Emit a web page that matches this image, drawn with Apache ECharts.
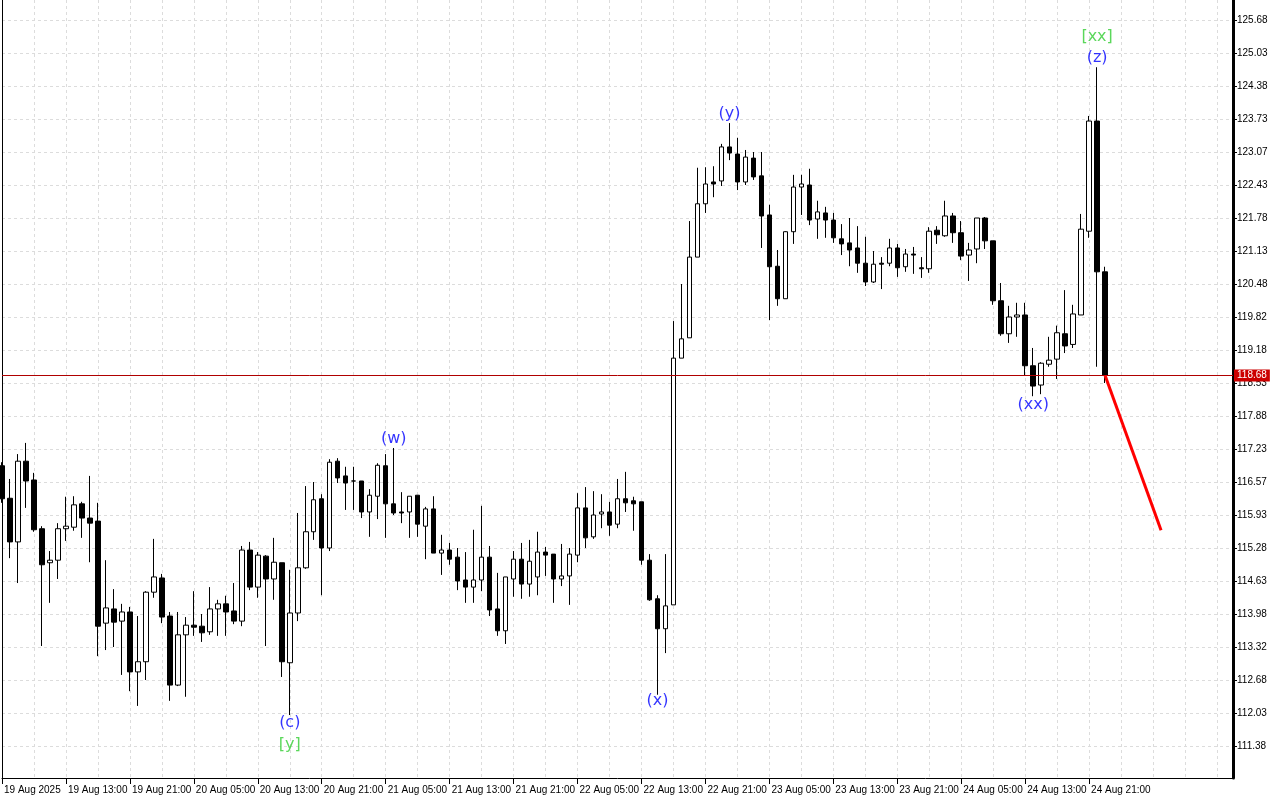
<!DOCTYPE html>
<html><head><meta charset="utf-8">
<script src="https://cdn.jsdelivr.net/npm/echarts@6/dist/echarts.min.js"></script>
<style>html,body{margin:0;padding:0;background:#fff}#c{width:1280px;height:800px}</style>
</head><body><div id="c"></div>
<script>
// ---- data (hourly bars starting 19 Aug 2025 05:00) ----
const opens = [116.90,116.26,115.40,116.99,116.62,115.66,114.99,115.04,115.66,115.69,
116.15,115.87,115.81,113.80,114.08,113.84,114.02,112.84,113.04,114.41,
114.69,113.94,112.58,113.57,113.76,113.74,113.63,114.08,114.18,114.04,
113.84,115.24,114.51,115.12,114.67,114.99,113.02,114.00,114.89,115.60,
116.25,115.28,116.99,116.70,116.60,116.60,115.99,116.30,116.90,116.15,
115.99,115.99,116.32,115.71,116.05,115.18,115.24,115.10,114.65,114.51,
114.65,115.10,114.08,113.65,114.67,115.06,114.57,114.71,115.20,115.16,
114.67,114.73,115.14,116.07,115.50,115.95,115.99,115.75,116.25,116.21,
116.19,115.04,114.28,113.69,114.16,119.02,119.42,121.01,122.06,122.49,
122.51,123.18,123.04,122.49,122.96,122.61,121.84,120.83,120.19,121.51,
122.39,122.43,121.76,121.88,121.74,121.37,121.29,121.19,120.89,120.52,
120.89,120.89,121.19,120.82,121.07,120.80,120.78,121.54,121.43,121.82,
121.49,121.05,121.17,121.78,121.33,120.15,119.50,119.83,119.87,118.87,
118.49,118.90,119.00,119.50,119.29,119.87,121.52,123.69,120.72];
const closes = [116.25,115.40,116.99,116.60,115.64,114.95,115.04,115.66,115.71,116.13,
115.87,115.77,113.74,114.10,113.82,114.02,112.84,113.04,114.41,114.71,
113.92,112.58,113.57,113.76,113.72,113.61,114.08,114.18,114.02,113.84,
115.24,114.51,115.14,114.67,115.00,113.04,114.00,114.89,115.60,116.23,
115.28,116.97,116.66,116.56,116.60,115.99,116.32,116.91,116.15,115.97,
115.97,116.30,115.75,116.05,115.18,115.24,115.06,114.63,114.51,114.65,
115.10,114.06,113.65,114.71,115.06,114.57,115.02,115.20,115.14,114.67,
114.73,115.16,116.07,115.48,115.93,115.99,115.73,116.25,116.17,116.15,
115.04,114.26,113.69,114.14,119.02,119.40,121.01,122.06,122.45,122.45,
123.18,123.06,122.49,122.98,122.59,121.82,120.82,120.19,121.51,122.39,
122.45,121.74,121.90,121.74,121.39,121.27,121.15,120.89,120.52,120.87,
120.87,121.19,120.80,121.07,121.05,120.78,121.52,121.45,121.82,121.49,
121.03,121.15,121.78,121.33,120.15,119.50,119.83,119.87,118.87,118.47,
118.92,118.98,119.52,119.26,119.89,121.56,123.69,120.72,118.68];
const highs = [116.97,116.64,117.13,117.35,116.76,115.71,115.22,115.77,116.29,116.30,
116.19,116.70,116.17,115.04,114.47,114.18,114.12,113.94,114.43,115.46,
114.77,114.02,114.02,113.92,114.43,113.98,114.51,114.26,114.34,114.59,
115.32,115.40,115.20,115.14,115.48,114.99,114.85,115.97,116.50,116.58,
116.34,117.03,117.05,116.88,116.88,116.60,116.44,116.95,117.13,117.25,
116.38,116.30,116.32,116.09,116.30,115.54,115.38,115.28,115.20,115.64,
116.11,115.32,114.79,114.71,115.22,115.38,115.44,115.60,115.30,115.16,
115.36,115.28,116.36,116.48,116.40,116.34,116.19,116.64,116.78,116.29,
116.19,115.16,114.35,115.16,119.75,120.48,121.72,122.77,122.78,122.80,
123.24,123.65,123.36,123.12,123.08,123.08,122.04,121.15,121.52,122.63,
122.63,122.75,122.12,122.00,121.88,121.66,121.78,121.62,121.41,121.13,
121.01,121.37,121.27,121.17,121.21,121.01,121.60,121.62,122.12,121.88,
121.72,121.29,121.78,121.80,121.33,120.50,120.05,120.11,120.11,119.22,
118.94,119.44,119.66,120.36,120.07,121.86,123.79,124.75,120.82];
const lows = [116.17,115.08,114.59,116.07,115.60,113.35,114.20,114.67,115.42,115.62,
115.48,115.00,113.15,113.27,113.33,112.78,112.46,112.17,112.68,114.30,
113.80,112.27,112.56,112.35,113.55,113.43,113.57,113.55,113.55,113.78,
113.74,114.45,114.30,113.35,114.26,112.74,111.99,113.84,114.87,115.44,
114.35,115.22,116.56,116.03,116.03,115.87,115.50,115.85,115.48,115.93,
115.77,115.48,115.50,115.06,115.18,114.75,114.95,114.45,114.20,114.20,
114.43,113.94,113.55,113.39,114.32,114.28,114.32,114.35,114.73,114.20,
114.53,114.16,115.00,115.28,115.46,115.67,115.52,115.67,115.99,115.62,
114.95,114.24,112.39,113.21,114.16,119.02,119.42,121.01,121.88,122.19,
122.41,122.92,122.33,122.43,122.53,121.19,119.77,120.05,120.19,121.27,
121.84,121.64,121.37,121.39,121.29,121.05,120.83,120.70,120.44,120.50,
120.38,120.83,120.62,120.72,120.68,120.60,120.70,121.27,121.41,121.29,
120.95,120.54,120.89,121.17,120.07,119.46,119.32,119.44,118.67,118.27,
118.31,118.85,118.61,119.12,119.22,119.87,121.39,118.85,118.53];

const lastPrice = 118.68;
const yTickLabels = ['125.68','125.03','124.38','123.73','123.07','122.43','121.78','121.13','120.48','119.82','119.18','118.53','117.88','117.23','116.57','115.93','115.28','114.63','113.98','113.32','112.68','112.03','111.38'];
const firstXLabel = '19 Aug 2025';

// wave labels
const waveText  = ['(w)','(c)','[y]','(x)','(y)','(xx)','(z)','[xx]'];
const waveIdx   = [49, 36, 36, 82, 91, 129, 137, 137];
const wavePrice = [117.43, 111.83, 111.40, 112.27, 123.83, 118.10, 124.93, 125.35];
const waveLevel = ['minor','minor','major','minor','minor','minor','minor','major'];

// forecast line
const forecastIdx = [138, 145];
const forecastPrice = [118.68, 115.63];

// ---- categories (hourly) ----
const SLOTS = 155;
const MONTHS = ['Jan','Feb','Mar','Apr','May','Jun','Jul','Aug','Sep','Oct','Nov','Dec'];
const categories = [];
for (let i = 0; i < SLOTS; i++) {
  const d = new Date(Date.UTC(2025, 7, 19, 5 + i));
  const hh = String(d.getUTCHours()).padStart(2, '0');
  categories.push(d.getUTCDate() + ' ' + MONTHS[d.getUTCMonth()] + ' ' + hh + ':00');
}
const nBars = opens.length;

const candleData = opens.map((o, i) => [o, closes[i], lows[i], highs[i]]);
const yTicks = yTickLabels.map(Number);
const YMIN = 110.75, YMAX = 126.074;

const gridLine = { color: '#dcdcdc', width: 1, type: [3, 3] };
const font = 'Liberation Sans, Arial, sans-serif';

const chart = echarts.init(document.getElementById('c'), null, { renderer: 'canvas' });
chart.setOption({
  animation: false,
  backgroundColor: '#ffffff',
  grid: { left: 2, right: 47, top: 0, bottom: 22, containLabel: false, outerBoundsMode: 'none' },
  xAxis: {
    type: 'category',
    data: categories,
    boundaryGap: false,
    axisLine: { show: true, lineStyle: { color: '#000', width: 1 } },
    axisTick: { show: true, length: 6, lineStyle: { color: '#000' },
      interval: (i) => i % 8 === 0 && i < nBars },
    axisLabel: {
      interval: (i) => i % 8 === 0 && i < nBars,
      formatter: (v, i) => (i === 0 ? firstXLabel : v),
      align: 'left', color: '#000', fontSize: 10, fontFamily: font, margin: 7,
      padding: [0, 0, 0, 2]
    },
    splitLine: { show: true, interval: (i) => i % 4 === 0, lineStyle: gridLine }
  },
  yAxis: [{
    type: 'value',
    position: 'right',
    min: YMIN, max: YMAX,
    axisLine: { show: true, lineStyle: { color: '#000', width: 3 } },
    axisTick: { show: true, length: 4, customValues: yTicks, lineStyle: { color: '#000' } },
    axisLabel: { customValues: yTicks, formatter: (v) => Number(v).toFixed(2),
      color: '#000', fontSize: 10, fontFamily: font, margin: 4 },
    splitLine: { show: true, lineStyle: gridLine }
  }, {
    type: 'value',
    position: 'left',
    min: YMIN, max: YMAX,
    axisLine: { show: true, lineStyle: { color: '#000', width: 1 } },
    axisTick: { show: false }, axisLabel: { show: false }, splitLine: { show: false }
  }],
  series: [{
    type: 'candlestick',
    data: candleData,
    barWidth: 5,
    clip: true,
    itemStyle: { color: '#ffffff', color0: '#000000', borderColor: '#000000', borderColor0: '#000000', borderColorDoji: '#000000', borderWidth: 1 },
    emphasis: { disabled: true },
    markLine: {
      silent: true,
      symbol: ['none', 'none'],
      data: [{ yAxis: lastPrice }],
      lineStyle: { color: '#b00000', width: 1, type: 'solid' },
      label: { show: true, position: 'end', formatter: lastPrice.toFixed(2),
        backgroundColor: '#cc0000', color: '#fff', fontSize: 10, fontFamily: font,
        padding: [1, 3], distance: 1 }
    }
  }, {
    type: 'line',
    data: forecastIdx.map((x, i) => [x, forecastPrice[i]]),
    symbol: 'none',
    lineStyle: { color: '#ff0000', width: 3 },
    z: 5,
    silent: true
  }, {
    type: 'scatter',
    symbolSize: 0,
    silent: true,
    z: 6,
    data: waveIdx.map((x, i) => ({
      value: [x, wavePrice[i]],
      label: { formatter: waveText[i], color: waveLevel[i] === 'major' ? '#32cd32' : '#0000ff' }
    })),
    label: { show: true, position: 'inside', fontSize: 16, fontFamily: 'DejaVu Sans, sans-serif' }
  }]
});
</script>
</body></html>
